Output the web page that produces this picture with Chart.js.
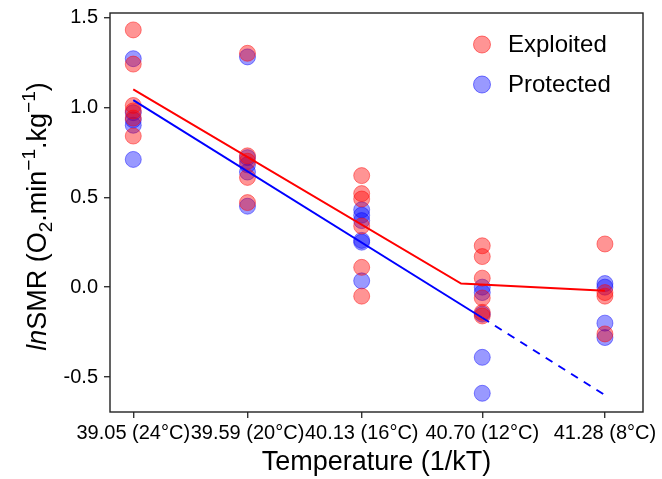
<!DOCTYPE html>
<html>
<head>
<meta charset="utf-8">
<script src="https://cdn.jsdelivr.net/npm/chart.js@4.4.1/dist/chart.umd.min.js"></script>
<style>
  html, body { margin: 0; padding: 0; background: #fff; }
  #wrap { width: 662px; height: 479px; }
</style>
</head>
<body>
<div id="wrap"><canvas id="smr-chart" width="662" height="479"></canvas></div>
<script>
// Sumbu x: 1/kT dengan label suhu
const tempTicks = [39.05, 39.59, 40.13, 40.70, 41.28];
const tempLabels = ['39.05 (24°C)', '39.59 (20°C)', '40.13 (16°C)', '40.70 (12°C)', '41.28 (8°C)'];
const yTicks = [-0.5, 0.0, 0.5, 1.0, 1.5];

// Titik data (lnSMR) per kelompok
const exploitedX = [39.05, 39.05, 39.05, 39.05, 39.05, 39.05,
                    39.59, 39.59, 39.59, 39.59, 39.59,
                    40.13, 40.13, 40.13, 40.13, 40.13, 40.13,
                    40.70, 40.70, 40.70, 40.70, 40.70, 40.70,
                    41.28, 41.28, 41.28, 41.28];
const exploitedY = [1.43, 1.24, 1.01, 0.98, 0.94, 0.84,
                    1.30, 0.73, 0.70, 0.61, 0.47,
                    0.62, 0.52, 0.49, 0.34, 0.11, -0.05,
                    0.23, 0.17, 0.05, -0.06, -0.14, -0.16,
                    0.24, -0.03, -0.05, -0.26];
const protectedX = [39.05, 39.05, 39.05, 39.05, 39.05,
                    39.59, 39.59, 39.59, 39.59, 39.59,
                    40.13, 40.13, 40.13, 40.13, 40.13, 40.13,
                    40.70, 40.70, 40.70, 40.70, 40.70,
                    41.28, 41.28, 41.28, 41.28];
const protectedY = [1.27, 0.97, 0.93, 0.90, 0.71,
                    1.28, 0.72, 0.68, 0.64, 0.45,
                    0.43, 0.40, 0.37, 0.26, 0.25, 0.035,
                    0.00, -0.03, -0.15, -0.39, -0.59,
                    0.02, 0.00, -0.20, -0.28];

// Garis model
const exploitedLineX = [39.05, 40.60, 41.28];
const exploitedLineY = [1.10, 0.02, -0.02];
const protectedLineX = [39.05, 40.70];
const protectedLineY = [1.04, -0.17];
const protectedDashX = [40.70, 41.28];
const protectedDashY = [-0.17, -0.60];

const FONT = '"Liberation Sans", Arial, sans-serif';
const RED_FILL = 'rgba(255, 0, 0, 0.42)';
const BLUE_FILL = 'rgba(0, 0, 255, 0.40)';

function toPoints(xs, ys) {
  return xs.map((x, i) => ({ x: x, y: ys[i] }));
}

// Plugin: kotak panel, judul sumbu y, legenda
const decorPlugin = {
  id: 'decor',
  afterDraw(chart) {
    const ctx = chart.ctx;
    const a = chart.chartArea;
    ctx.save();

    // kotak panel
    ctx.strokeStyle = '#222';
    ctx.lineWidth = 1.4;
    ctx.strokeRect(a.left, a.top, a.right - a.left, a.bottom - a.top);

    // judul sumbu y
    const big = '27px ' + FONT;
    const small = '19px ' + FONT;
    const parts = [
      { t: 'ln', f: 'italic ' + big, dy: 0 },
      { t: 'SMR (O', f: big, dy: 0 },
      { t: '2', f: small, dy: 6 },
      { t: '.min', f: big, dy: 0 },
      { t: '\u22121', f: small, dy: -11 },
      { t: '.kg', f: big, dy: 0 },
      { t: '\u22121', f: small, dy: -11 },
      { t: ')', f: big, dy: 0 }
    ];
    let total = 0;
    parts.forEach(p => { ctx.font = p.f; p.w = ctx.measureText(p.t).width; total += p.w; });
    ctx.translate(46, (a.top + a.bottom) / 2 + 4);
    ctx.rotate(-Math.PI / 2);
    ctx.fillStyle = '#000';
    ctx.textBaseline = 'alphabetic';
    ctx.textAlign = 'left';
    let x = -total / 2;
    parts.forEach(p => { ctx.font = p.f; ctx.fillText(p.t, x, p.dy); x += p.w; });
    ctx.restore();

    // legenda
    ctx.save();
    const items = [
      { label: 'Exploited', fill: RED_FILL, stroke: 'rgba(255,0,0,0.5)' },
      { label: 'Protected', fill: BLUE_FILL, stroke: 'rgba(0,0,255,0.5)' }
    ];
    items.forEach((it, i) => {
      const cy = a.top + 31.5 + i * 40;
      const cx = a.right - 161;
      ctx.beginPath();
      ctx.arc(cx, cy, 8.5, 0, Math.PI * 2);
      ctx.fillStyle = it.fill;
      ctx.fill();
      ctx.strokeStyle = it.stroke;
      ctx.lineWidth = 1;
      ctx.stroke();
      ctx.fillStyle = '#000';
      ctx.font = '24px ' + FONT;
      ctx.textBaseline = 'middle';
      ctx.fillText(it.label, a.right - 135, cy + 1);
    });
    ctx.restore();
  }
};

const chart = new Chart(document.getElementById('smr-chart').getContext('2d'), {
  type: 'scatter',
  data: {
    datasets: [
      {
        label: 'Exploited line',
        data: toPoints(exploitedLineX, exploitedLineY),
        showLine: true,
        borderColor: '#ff0000',
        borderWidth: 2,
        pointRadius: 0,
        order: 0
      },
      {
        label: 'Protected line',
        data: toPoints(protectedLineX, protectedLineY),
        showLine: true,
        borderColor: '#0000ff',
        borderWidth: 2,
        pointRadius: 0,
        order: 0
      },
      {
        label: 'Protected extrapolation',
        data: toPoints(protectedDashX, protectedDashY),
        showLine: true,
        borderColor: '#0000ff',
        borderWidth: 2,
        borderDash: [8, 7],
        pointRadius: 0,
        order: 0
      },
      {
        label: 'Exploited',
        data: toPoints(exploitedX, exploitedY),
        backgroundColor: RED_FILL,
        borderColor: 'rgba(255,0,0,0.45)',
        borderWidth: 1,
        pointRadius: 8,
        order: 1
      },
      {
        label: 'Protected',
        data: toPoints(protectedX, protectedY),
        backgroundColor: BLUE_FILL,
        borderColor: 'rgba(0,0,255,0.45)',
        borderWidth: 1,
        pointRadius: 8,
        order: 1
      }
    ]
  },
  options: {
    responsive: false,
    animation: false,
    layout: { padding: { top: 13, right: 19, left: 0, bottom: 0 } },
    plugins: {
      legend: { display: false },
      tooltip: { enabled: false }
    },
    scales: {
      x: {
        type: 'linear',
        min: 38.94,
        max: 41.46,
        afterBuildTicks: s => { s.ticks = tempTicks.map(v => ({ value: v })); },
        afterFit: s => { s.height = 67; s.paddingLeft = 0; s.paddingRight = 0; },
        border: { display: false },
        grid: { drawOnChartArea: false, drawTicks: true, tickLength: 6, color: '#333', lineWidth: 1.4 },
        ticks: {
          autoSkip: false,
          maxRotation: 0,
          minRotation: 0,
          padding: 3,
          color: '#000',
          font: { family: FONT, size: 20 },
          callback: v => {
            const i = tempTicks.findIndex(t => Math.abs(t - v) < 1e-6);
            return i >= 0 ? tempLabels[i] : '';
          }
        },
        title: {
          display: true,
          text: 'Temperature (1/kT)',
          color: '#000',
          font: { family: FONT, size: 27 },
          padding: { top: 0, bottom: 0 }
        }
      },
      y: {
        min: -0.694,
        max: 1.524,
        afterBuildTicks: s => { s.ticks = yTicks.map(v => ({ value: v })); },
        afterFit: s => { s.width = 110; s.paddingTop = 0; s.paddingBottom = 0; },
        border: { display: false },
        grid: { drawOnChartArea: false, drawTicks: true, tickLength: 6, color: '#333', lineWidth: 1.4 },
        ticks: {
          padding: 6,
          color: '#000',
          font: { family: FONT, size: 20 },
          callback: v => v.toFixed(1)
        }
      }
    }
  },
  plugins: [decorPlugin]
});
</script>
</body>
</html>
